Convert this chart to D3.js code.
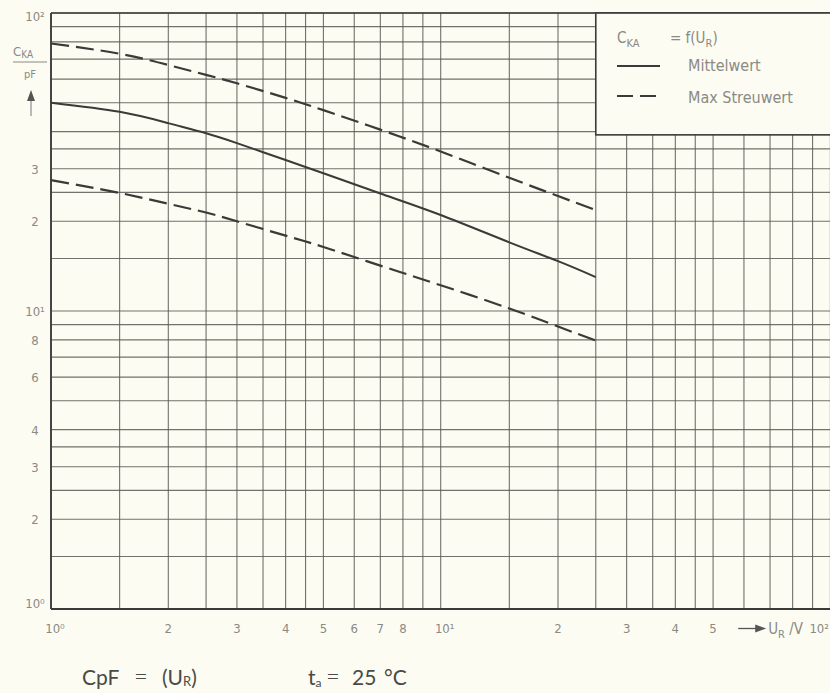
<!DOCTYPE html>
<html><head><meta charset="utf-8">
<script src="https://cdn.jsdelivr.net/npm/d3@7"></script>
<style>
html,body{margin:0;padding:0;background:#fcfcf3;}
svg{display:block;}
</style></head>
<body>
<svg id="chart" width="830" height="693"></svg>
<script>
// ---- data ----
const voltage = [1, 1.5, 2, 2.5, 3, 4, 5, 7, 10, 15, 20, 25];
const mittelwert = [50, 46.6, 42.7, 39.5, 36.6, 32.1, 29.0, 24.8, 21.0, 17.0, 14.7, 13.0];
const maxUpper = [79, 73, 66.9, 62.0, 58.1, 51.9, 47.2, 40.6, 34.3, 28.0, 24.3, 21.8];
const maxLower = [27.5, 24.9, 22.9, 21.4, 20.0, 17.9, 16.4, 14.2, 12.2, 10.2, 8.87, 7.96];

const xGridValues = [1,1.5,2,2.5,3,3.5,4,4.5,5,6,7,8,9,10,15,20,25,30,35,40,45,50,60,70,80,90,100];
const yGridValues = [1,1.5,2,2.5,3,3.5,4,5,6,7,8,9,10,15,20,25,30,35,40,50,60,70,80,90,100];
const xTickValues = [1, 2, 3, 4, 5, 6, 7, 8, 10, 20, 30, 40, 50, 100];
const xTickLabels = ["10\u2070","2","3","4","5","6","7","8","10\u00b9","2","3","4","5","10\u00b2"];
const yTickValues = [100, 30, 20, 10, 8, 6, 4, 3, 2, 1];
const yTickLabels = ["10\u00b2","3","2","10\u00b9","8","6","4","3","2","10\u2070"];
const legendLabels = ["Mittelwert", "Max Streuwert"];

// ---- layout ----
const svg = d3.select("#chart");
const pLeft = 51, pRight = 830.4, pTop = 13, pBottom = 609;
const x = d3.scaleLog().domain([1, 100]).range([pLeft, pRight]);
const y = d3.scaleLog().domain([1, 100]).range([pBottom, pTop]);
const ink = "#3a3a36", gridCol = "#5a5a55", labelCol = "#8a8a84";

// grid
svg.append("g").selectAll("line").data(xGridValues).join("line")
  .attr("x1", d => x(d)).attr("x2", d => x(d))
  .attr("y1", pTop).attr("y2", pBottom)
  .attr("stroke", gridCol).attr("stroke-width", 1.1).attr("opacity", 0.85);
svg.append("g").selectAll("line").data(yGridValues).join("line")
  .attr("x1", pLeft).attr("x2", 830)
  .attr("y1", d => y(d)).attr("y2", d => y(d))
  .attr("stroke", gridCol).attr("stroke-width", 1.1).attr("opacity", 0.85);
// frame
svg.append("line").attr("x1", pLeft).attr("x2", pLeft).attr("y1", pTop).attr("y2", pBottom)
  .attr("stroke", ink).attr("stroke-width", 1.8);
svg.append("line").attr("x1", pLeft).attr("x2", 830).attr("y1", pBottom).attr("y2", pBottom)
  .attr("stroke", ink).attr("stroke-width", 1.8);
svg.append("line").attr("x1", pLeft).attr("x2", 830).attr("y1", pTop).attr("y2", pTop)
  .attr("stroke", ink).attr("stroke-width", 1.4);

// legend box (covers grid)
svg.append("rect")
  .attr("x", x(25)).attr("y", y(100))
  .attr("width", 840 - x(25)).attr("height", y(39) - y(100))
  .attr("fill", "#fcfcf3").attr("stroke", ink).attr("stroke-width", 1.6);

// curves
const line = d3.line().x((d, i) => x(voltage[i])).y(d => y(d)).curve(d3.curveNatural);
svg.append("path").datum(mittelwert).attr("d", line)
  .attr("fill", "none").attr("stroke", ink).attr("stroke-width", 2);
[maxUpper, maxLower].forEach(s => {
  svg.append("path").datum(s).attr("d", line)
    .attr("fill", "none").attr("stroke", ink).attr("stroke-width", 2.2)
    .attr("stroke-dasharray", "18,7");
});

const font = "'DejaVu Sans Condensed','DejaVu Sans',sans-serif";

// x tick labels
svg.append("g").selectAll("text").data(xTickValues).join("text")
  .attr("x", (d, i) => i === 13 ? 829 : x(d) + (i === 0 ? 4 : i === 8 ? 4 : 0))
  .attr("y", 633)
  .attr("text-anchor", (d, i) => i === 13 ? "end" : "middle")
  .attr("font-family", font).attr("font-size", 13).attr("fill", labelCol)
  .text((d, i) => xTickLabels[i]);

// x axis title with arrow
const ax = x(58);
svg.append("line").attr("x1", ax).attr("x2", ax + 20).attr("y1", 628.5).attr("y2", 628.5)
  .attr("stroke", "#555").attr("stroke-width", 1.3);
svg.append("path").attr("d", `M${ax + 17},624.5 L${ax + 28},628.5 L${ax + 17},632.5 Z`).attr("fill", "#555");
const xt = svg.append("text").attr("x", ax + 30).attr("y", 634)
  .attr("font-family", font).attr("font-size", 15).attr("fill", labelCol);
xt.append("tspan").text("U");
xt.append("tspan").text("R").attr("font-size", 11).attr("dy", 4);
xt.append("tspan").text(" /V").attr("dy", -4);

// y tick labels
svg.append("g").selectAll("text").data(yTickValues).join("text")
  .attr("x", 35)
  .attr("y", (d, i) => y(d) + (i === 0 ? 8 : i === 9 ? -1 : 5))
  .attr("text-anchor", "middle")
  .attr("font-family", font).attr("font-size", 13).attr("fill", labelCol)
  .text((d, i) => yTickLabels[i]);

// y axis title: C_KA / pF with arrow
const yt = svg.append("text").attr("x", 13).attr("y", 56)
  .attr("font-family", font).attr("font-size", 13).attr("fill", labelCol);
yt.append("tspan").text("C");
yt.append("tspan").text("KA").attr("font-size", 10).attr("dy", 2);
svg.append("line").attr("x1", 13).attr("x2", 47).attr("y1", 62).attr("y2", 62)
  .attr("stroke", labelCol).attr("stroke-width", 1);
svg.append("text").attr("x", 30).attr("y", 78).attr("text-anchor", "middle")
  .attr("font-family", font).attr("font-size", 11).attr("fill", labelCol).text("pF");
svg.append("line").attr("x1", 31).attr("x2", 31).attr("y1", 98).attr("y2", 116)
  .attr("stroke", "#777").attr("stroke-width", 1);
svg.append("path").attr("d", "M27,101 L31,90 L35,101 Z").attr("fill", "#555");

// legend content
const lx = 617;
const lt = svg.append("text").attr("x", lx).attr("y", 43)
  .attr("font-family", font).attr("font-size", 15).attr("fill", labelCol);
lt.append("tspan").text("C");
lt.append("tspan").text("KA").attr("font-size", 11).attr("dy", 4);
lt.append("tspan").text("= f(U").attr("dy", -4).attr("x", 670);
lt.append("tspan").text("R").attr("font-size", 11).attr("dy", 4);
lt.append("tspan").text(")").attr("dy", -4);

svg.append("line").attr("x1", lx).attr("x2", 660).attr("y1", 66).attr("y2", 66)
  .attr("stroke", ink).attr("stroke-width", 2);
svg.append("line").attr("x1", lx).attr("x2", 660).attr("y1", 96).attr("y2", 96)
  .attr("stroke", ink).attr("stroke-width", 2.2).attr("stroke-dasharray", "16,7");
svg.append("g").selectAll("text").data(legendLabels).join("text")
  .attr("x", 688).attr("y", (d, i) => 71 + i * 32)
  .attr("font-family", font).attr("font-size", 16).attr("fill", labelCol)
  .text(d => d);

// bottom captions
const bfont = "Lato,'Open Sans',sans-serif";
const capCol = "#4a4a46";
function cap(xp, txt, size) {
  return svg.append("text").attr("x", xp).attr("y", 685)
    .attr("font-family", bfont).attr("font-size", size || 21).attr("fill", capCol).text(txt);
}
cap(82, "CpF");
cap(134, "=").attr("font-weight", 300).attr("font-size", 24);
const u = cap(162, "(U");
u.append("tspan").text("R").attr("font-size", 13).attr("dy", 1);
u.append("tspan").text(")").attr("dy", -1);
const t = cap(308, "t");
t.append("tspan").text("a").attr("font-size", 12).attr("dy", 2);
cap(326, "=").attr("font-weight", 300).attr("font-size", 24);
cap(352, "25");
cap(384, "\u00b0C");
</script>
</body></html>
